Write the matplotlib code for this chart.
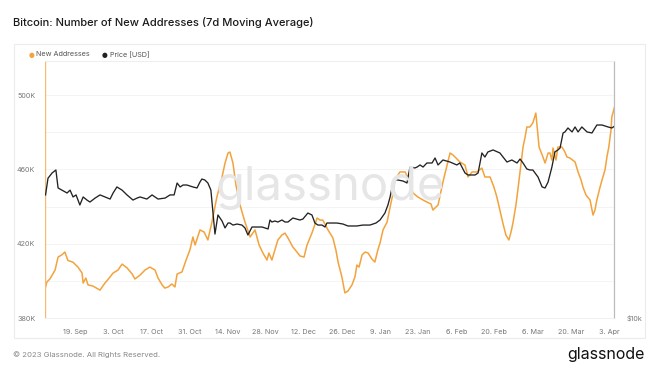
import numpy as np
import pandas as pd
import matplotlib
matplotlib.use("Agg")
import matplotlib.pyplot as plt
import matplotlib.dates as mdates
from matplotlib.patches import Rectangle

plt.rcParams["font.family"] = ["Inter", "DejaVu Sans"]

START = pd.Timestamp("2022-09-08")

# new addresses, 7d MA (thousands) -- day offsets from START
addr_days = [0.2, 0.7, 1.8, 3.7, 4.8, 6.2, 7.3, 8.4, 10.3, 12.1, 13.6, 14.0, 15.0, 15.8,
             17.6, 20.2, 22.0, 23.0, 25.0, 26.8, 28.3, 30.1, 32.0, 33.0, 34.9, 36.7, 38.5,
             40.4, 41.5, 43.0, 44.0, 45.2, 46.6, 47.7, 48.5, 50.3, 51.8, 53.2, 54.3, 55.1,
             56.9, 58.4, 59.8, 61.3, 63.1, 65.0, 66.1, 67.2, 67.9, 69.0, 70.1, 71.6, 73.4,
             75.3, 77.1, 78.6, 80.0, 81.5, 82.2, 83.3, 85.5, 87.0, 88.1, 89.2, 91.0, 92.5,
             93.6, 95.1, 96.2, 98.0, 99.9, 101.0, 102.0, 103.9, 105.7, 106.8, 107.6, 109.0,
             110.1, 111.2, 112.7, 113.8, 114.5, 115.3, 116.4, 117.5, 118.6, 120.0, 121.1,
             122.2, 123.0, 124.1, 125.6, 126.7, 127.8, 128.5, 129.6, 130.3, 131.4, 132.2,
             133.3, 134.4, 135.1, 136.9, 138.8, 140.2, 141.7, 142.4, 143.5, 144.3, 146.1,
             147.6, 148.7, 149.8, 150.5, 152.3, 154.2, 155.3, 156.8, 158.6, 160.4, 161.5,
             163.4, 164.8, 165.9, 167.0, 168.1, 169.2, 170.3, 171.1, 171.8, 172.9, 173.6,
             174.7, 175.5, 176.2, 176.9, 178.0, 179.1, 180.2, 181.4, 182.8, 183.6, 184.7,
             185.4, 186.1, 186.5, 187.6, 188.3, 189.8, 190.9, 191.6, 192.7, 194.6, 195.7,
             196.8, 197.5, 198.6, 200.1, 201.2, 201.9, 202.6, 203.7, 204.5, 205.6, 206.3,
             207.0, 207.8, 208.1, 209.2]
addr_vals = [396.7, 399.4, 401.0, 405.8, 412.8, 414.0, 415.5, 411.0, 410.0, 407.4, 404.2,
             398.8, 401.5, 397.8, 397.2, 395.0, 398.8, 400.5, 404.2, 405.8, 409.0, 407.0,
             403.7, 401.0, 403.1, 405.8, 407.4, 405.8, 401.5, 397.8, 396.1, 396.7, 398.3,
             396.7, 403.7, 404.8, 411.2, 416.6, 423.6, 419.3, 427.4, 426.3, 422.0, 431.7,
             445.1, 455.9, 463.4, 468.8, 469.3, 463.4, 451.6, 440.8, 431.7, 423.6, 427.4,
             419.3, 415.0, 411.2, 415.0, 411.2, 422.0, 424.7, 425.7, 423.1, 418.2, 415.5,
             413.4, 412.8, 419.3, 425.7, 433.8, 432.7, 432.7, 427.4, 423.1, 416.6, 410.1,
             402.1, 393.5, 394.5, 397.8, 402.1, 408.5, 407.4, 413.9, 415.5, 415.0, 411.8,
             410.1, 416.6, 420.4, 427.4, 431.7, 439.7, 447.3, 454.3, 457.0, 458.6, 458.6,
             458.6, 455.3, 450.0, 447.3, 445.1, 443.5, 442.4, 441.4, 438.1, 439.7, 440.8,
             453.2, 462.3, 468.8, 467.7, 466.7, 464.0, 462.3, 455.9, 458.6, 458.6, 460.7,
             455.9, 455.9, 450.5, 445.1, 438.1, 431.1, 424.7, 422.0, 426.3, 431.1, 440.8,
             448.9, 462.3, 472.0, 476.9, 482.8, 482.8, 485.0, 490.3, 472.0, 466.7, 463.4,
             468.8, 468.8, 465.0, 471.5, 465.0, 472.0, 472.0, 469.3, 466.7, 466.1, 464.0,
             458.6, 454.3, 450.5, 446.2, 443.5, 435.4, 438.1, 443.5, 450.0, 454.3, 459.7,
             466.7, 472.0, 481.2, 488.2, 494.1]

# BTC price (USD)
price_days = [0.2, 1.1, 2.6, 4.0, 4.8, 6.2, 8.1, 9.2, 10.3, 11.4, 12.8, 14.0, 15.4, 16.5,
              18.4, 20.2, 22.0, 23.9, 25.0, 26.4, 28.3, 30.1, 32.3, 33.8, 34.9, 37.4, 39.3,
              41.5, 44.1, 45.9, 47.4, 48.5, 49.6, 50.7, 52.1, 54.3, 55.8, 56.9, 57.6, 58.7,
              59.8, 60.9, 61.7, 62.4, 63.5, 65.0, 66.1, 67.2, 67.9, 69.0, 70.5, 72.3, 73.4,
              74.5, 76.0, 77.8, 79.7, 81.9, 82.6, 83.3, 84.4, 85.5, 87.0, 88.1, 89.2, 91.0,
              93.6, 94.7, 96.5, 98.0, 99.1, 100.2, 101.7, 102.8, 103.5, 105.4, 107.2, 109.4,
              111.2, 114.5, 116.7, 119.3, 121.5, 123.0, 124.8, 125.9, 126.7, 127.8, 128.9,
              129.6, 131.4, 132.2, 132.9, 134.0, 135.8, 136.6, 137.7, 138.8, 140.2, 142.1,
              143.2, 144.3, 146.1, 148.7, 151.2, 152.3, 154.2, 155.3, 157.9, 159.0, 160.4,
              161.5, 162.6, 164.5, 167.0, 169.6, 171.4, 173.3, 174.4, 175.5, 176.9, 178.0,
              179.1, 181.0, 182.5, 183.6, 184.7, 186.1, 187.2, 188.3, 189.1, 190.2, 190.9,
              192.0, 193.5, 194.6, 195.7, 197.1, 199.0, 200.8, 202.6, 204.5, 206.7, 208.1,
              209.2]
price_vals = [19300, 21100, 21700, 22050, 20030, 19800, 19500, 19800, 19090, 19300, 18290,
              19090, 18780, 18580, 18980, 19300, 19090, 18880, 19500, 20140, 19800, 19300,
              18780, 18980, 19090, 18880, 19300, 18880, 18980, 19300, 19300, 20570, 20140,
              20350, 20350, 20140, 20030, 20680, 21010, 20900, 20570, 19800, 17520, 15660,
              17340, 16790, 16180, 16610, 16610, 16430, 16520, 16430, 16180, 15580, 16260,
              16260, 16260, 16090, 16880, 16700, 16790, 16700, 16880, 16700, 16700, 17060,
              16880, 16970, 17520, 17340, 16610, 16430, 16430, 16260, 16610, 16610, 16610,
              16520, 16350, 16350, 16430, 16430, 16610, 16880, 17520, 18290, 19090, 20680,
              20900, 20900, 20790, 20680, 20570, 22400, 22290, 22400, 22650, 22400, 22890,
              22890, 23510, 22650, 23260, 23010, 22650, 22890, 21700, 21470, 21470, 21700,
              24150, 23630, 24280, 24540, 24150, 23010, 23260, 22890, 23380, 22890, 22170,
              22050, 22050, 21240, 20140, 20030, 20680, 22400, 24280, 24540, 24800, 26870,
              27020, 27600, 27020, 27750, 27020, 27750, 27020, 26870, 28040, 28040, 27750,
              27600, 27900]

tick_dates = ["2022-09-19", "2022-10-03", "2022-10-17", "2022-10-31", "2022-11-14",
              "2022-11-28", "2022-12-12", "2022-12-26", "2023-01-09", "2023-01-23",
              "2023-02-06", "2023-02-20", "2023-03-06", "2023-03-20", "2023-04-03"]

ORANGE = "#f3a33c"
W, H = 660, 372

fig = plt.figure(figsize=(W / 100, H / 100), dpi=100)

def fx(px):
    return px / W

def fy(py):
    return 1 - py / H

# outer panel border
fig.patches.append(Rectangle((fx(14), fy(338)), fx(645) - fx(14), fy(44) - fy(338),
                             transform=fig.transFigure, fill=False,
                             edgecolor="#ececec", linewidth=0.8))

fig.text(fx(13), fy(22), "Bitcoin: Number of New Addresses (7d Moving Average)",
         fontsize=8.0, color="#1a1a1a", va="center", ha="left", weight="medium")

# legend
fig.text(fx(31.5), fy(54.5), "\u25cf", color=ORANGE, fontsize=4.8, ha="center", va="center",
         family=["DejaVu Sans"])
fig.text(fx(36), fy(54.5), "New Addresses", color="#555555", fontsize=5.2, va="center")
fig.text(fx(105), fy(54.5), "\u25cf", color="#222222", fontsize=4.8, ha="center", va="center",
         family=["DejaVu Sans"])
fig.text(fx(110), fy(54.5), "Price [USD]", color="#555555", fontsize=5.2, va="center")

ax = fig.add_axes([fx(45), fy(318), fx(614) - fx(45), fy(61) - fy(318)])
ax.patch.set_visible(False)

# watermark
fig.text(0.5, fy(188), "glassnode", fontsize=34, color="#e6e6e6", ha="center",
         va="center", zorder=0)

x_addr = START + pd.to_timedelta(np.array(addr_days), unit="D")
x_price = START + pd.to_timedelta(np.array(price_days), unit="D")

ax.plot(x_addr, addr_vals, color=ORANGE, linewidth=1.1, zorder=3)

ax2 = ax.twinx()
ax2.set_yscale("log")
ax2.plot(x_price, price_vals, color="#222222", linewidth=0.95, zorder=3)

y_top = 380 + (318 - 61) / 1.858
ax.set_ylim(380, y_top)
ax2.set_ylim(10000, 10000 * 10 ** ((318 - 61) / 431))
ax.set_xlim(START, START + pd.Timedelta(days=208.9))

ax.set_yticks([380, 420, 460, 500])
ax.set_yticklabels(["380K", "420K", "460K", "500K"])
for v in [400, 440, 480]:
    ax.axhline(v, color="#f3f3f3", linewidth=0.6, zorder=0)
ax.grid(axis="y", color="#f3f3f3", linewidth=0.6)
ax.set_axisbelow(True)

ax.set_xticks(pd.to_datetime(tick_dates))
ax.xaxis.set_major_formatter(mdates.DateFormatter("%-d. %b"))

ax.tick_params(axis="both", length=0, labelsize=5.2, labelcolor="#777777")
ax.tick_params(axis="x", pad=8)
ax.tick_params(axis="y", pad=7)

ax2.set_yticks([10000])
ax2.set_yticklabels(["$10k"])
ax2.yaxis.set_minor_locator(plt.NullLocator())
ax2.tick_params(axis="y", length=0, labelsize=5.2, labelcolor="#777777", pad=9)

for a in (ax, ax2):
    a.spines["top"].set_color("#eeeeee")
    a.spines["top"].set_linewidth(0.6)
    a.spines["bottom"].set_color("#f0f0f0")
    a.spines["bottom"].set_linewidth(0.6)
    a.spines["right"].set_color("#bbbbbb")
    a.spines["right"].set_linewidth(0.8)
    a.spines["left"].set_visible(False)

# left axis line in series colour
ax2.axvline(START, color="#f6bb70", linewidth=1.0, zorder=1)

fig.text(fx(13), fy(355), "\u00a9 2023 Glassnode. All Rights Reserved.", fontsize=5.6,
         color="#888888", va="center")
fig.text(fx(645), fy(355), "glassnode", fontsize=11.5, color="#111111", va="center",
         ha="right")

fig.savefig("out.png", dpi=100)
